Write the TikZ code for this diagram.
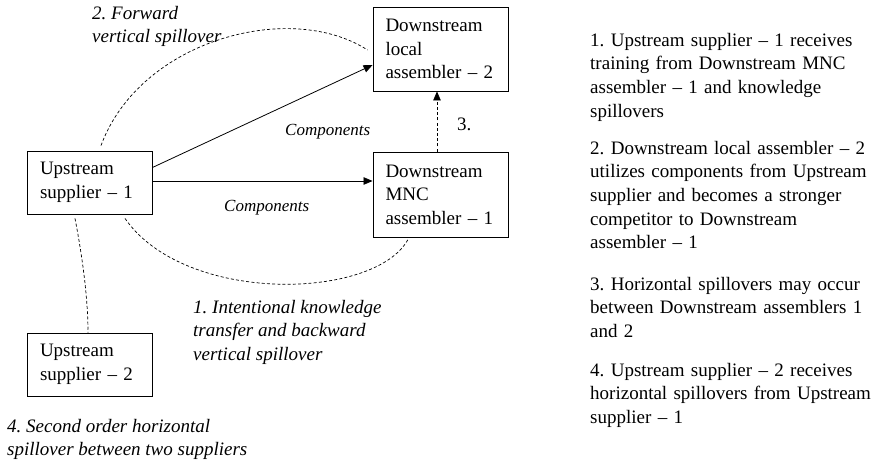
\documentclass[tikz,border=0pt]{standalone}
\usepackage{fontspec}
\setmainfont{Liberation Serif}
\usetikzlibrary{arrows.meta,calc}
\begin{document}
\frenchspacing
\begin{tikzpicture}[x=1pt,y=-1pt,
  box/.style={draw, line width=0.9pt, rectangle, align=left, inner xsep=0pt, inner ysep=0pt,
    font=\fontsize{19}{23.6}\selectfont},
  lbl/.style={align=left, inner sep=0pt, anchor=west, font=\fontsize{19}{23.6}\selectfont\itshape},
  note/.style={align=left, inner sep=0pt, anchor=north west, text width=285pt, font=\fontsize{19}{23.6}\selectfont},
  arr/.style={line width=0.8pt, -{Triangle[length=9pt,width=7.5pt]}},
  dsh/.style={line width=0.7pt, dash pattern=on 3pt off 2.2pt}
]
\useasboundingbox (0,0) rectangle (876,462);
% boxes
\node[box, minimum width=125pt, minimum height=63pt, text width=99pt] (u1) at (89.5,182.5) {Upstream\\supplier -- 1};
\node[box, minimum width=135pt, minimum height=84pt, text width=110pt] (l2) at (440.5,49) {Downstream\\local\\assembler -- 2};
\node[box, minimum width=135pt, minimum height=85pt, text width=110pt] (m1) at (440.5,194.5) {Downstream\\MNC\\assembler -- 1};
\node[box, minimum width=125pt, minimum height=63pt, text width=99pt] (u2) at (89.5,364.5) {Upstream\\supplier -- 2};
% solid arrows
\coordinate (ua) at ([yshift=1.5pt]u1.east);
\draw[arr] (ua) -- (m1.west |- ua);
\draw[arr] ([yshift=15pt]u1.east) -- ([yshift=-16pt]l2.west);
\draw[arr, dsh] ([xshift=-3.5pt]m1.north) -- ([xshift=-3.5pt]l2.south);
% dashed curves
\draw[dsh] ([xshift=11.5pt,yshift=5pt]u1.north) .. controls (140,40) and (290,0) .. ([xshift=-5pt,yshift=-1pt]l2.west);
\draw[dsh] ([xshift=35.5pt,yshift=-4pt]u1.south) .. controls (185,305) and (375,300) .. ([xshift=-32.5pt,yshift=-2pt]m1.south);
\draw[dsh] ([xshift=-14.5pt,yshift=-4pt]u1.south) .. controls (83,260) and (88,300) .. ([xshift=-1.5pt]u2.north);
% labels
\node[lbl, font=\fontsize{17}{20}\selectfont\itshape] (c1) at (285,132) {Components};
\node[lbl, font=\fontsize{17}{20}\selectfont\itshape] (c2) at (224,208) {Components};
\node[lbl, font=\fontsize{19}{23.6}\selectfont] (n3) at (457,124) {3.};
\node[lbl, anchor=north west] (t2) at (92,6) {2. Forward\\vertical spillover};
\node[lbl, anchor=north west] (t1) at (193,300) {1. Intentional knowledge\\transfer and backward\\vertical spillover};
\node[lbl, anchor=north west] (t4) at (7,419) {4. Second order horizontal\\spillover between two suppliers};
% notes
\node[note] (p1) at (590,33) {1. Upstream supplier -- 1 receives\\training from Downstream MNC\\assembler -- 1 and knowledge\\spillovers};
\node[note] (p2) at (590,141) {2. Downstream local assembler -- 2\\utilizes components from Upstream\\supplier and becomes a stronger\\competitor to Downstream\\assembler -- 1};
\node[note] (p3) at (590,277) {3. Horizontal spillovers may occur\\between Downstream assemblers 1\\and 2};
\node[note] (p4) at (590,363) {4. Upstream supplier -- 2 receives\\horizontal spillovers from Upstream\\supplier -- 1};
\end{tikzpicture}
\end{document}
